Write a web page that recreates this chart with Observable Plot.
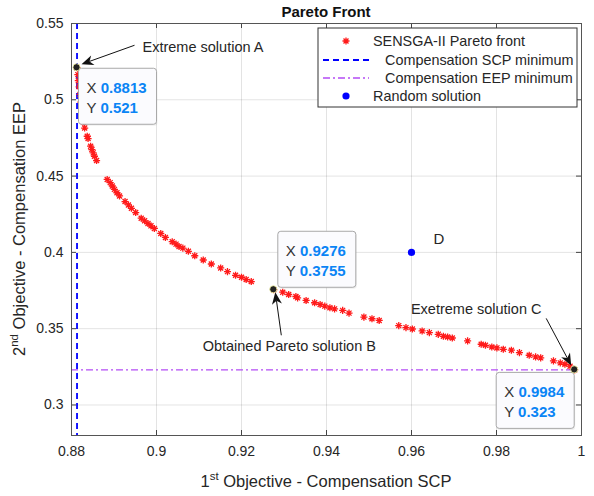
<!DOCTYPE html>
<html><head><meta charset="utf-8">
<script src="https://cdn.jsdelivr.net/npm/d3@7"></script>
<script src="https://cdn.jsdelivr.net/npm/@observablehq/plot@0.6"></script>
<style>body{margin:0;background:#fff}</style>
</head><body><div id="chart"></div>
<script>
const xTicks = [0.88, 0.9, 0.92, 0.94, 0.96, 0.98, 1];
const yTicks = [0.3, 0.35, 0.4, 0.45, 0.5, 0.55];
const paretoX = [0.8813,0.8815,0.8816,0.8818,0.8820,0.8822,0.8824,0.8826,0.8828,
 0.8831,0.8837,0.8839,0.8845,0.8848,0.8851,0.8854,0.8859,0.8884,0.8891,0.8896,0.8901,0.8907,0.8913,
 0.8926,0.8934,0.8941,0.8951,0.8964,0.8972,0.8980,0.8987,0.8995,0.9010,0.9021,0.9037,0.9046,0.9053,
 0.9062,0.9075,0.9090,0.9110,0.9129,0.9151,0.9167,0.9186,0.9200,0.9211,0.9223,
 0.9276,0.9297,0.9311,0.9328,0.9332,0.9352,0.9372,0.9385,0.9396,0.9408,0.9419,0.9438,0.9453,0.9488,
 0.9507,0.9524,0.9570,0.9587,0.9602,0.9625,0.9642,0.9663,0.9675,0.9685,0.9696,0.9732,0.9764,0.9774,
 0.9789,0.9801,0.9816,0.9835,0.9854,0.9877,0.9892,0.9904,0.9934,0.9950,0.9961,0.9973,0.9984];
const paretoY = [0.521,0.5165,0.5125,0.5085,0.5035,0.4985,0.494,0.4895,0.4855,
 0.4815,0.4761,0.4746,0.4696,0.4674,0.4652,0.4630,0.4602,0.4478,0.4457,0.4435,0.4413,0.4391,0.4370,
 0.4333,0.4311,0.4289,0.4261,0.4224,0.4207,0.4189,0.4174,0.4157,0.4124,0.4098,0.4070,0.4054,0.4039,
 0.4028,0.4007,0.3978,0.3950,0.3924,0.3898,0.3874,0.3850,0.3837,0.3822,0.3809,
 0.3755,0.3739,0.3724,0.3711,0.3702,0.3685,0.3670,0.3659,0.3648,0.3637,0.3630,0.3620,0.3602,0.3576,
 0.3565,0.3554,0.3520,0.3507,0.3498,0.3485,0.3474,0.3463,0.3450,0.3446,0.3439,0.3420,0.3398,0.3391,
 0.3380,0.3374,0.3365,0.3359,0.3343,0.3326,0.3315,0.3309,0.3289,0.3276,0.3267,0.3254,0.3230];
const scpMin = 0.8813;
const eepMin = 0.323;
const randomX = [0.96];
const randomY = [0.4];
const randomLabel = ["D"];
const tipX = [0.8813, 0.9276, 0.9984];
const tipY = [0.521, 0.3755, 0.323];
const tipTextX = ["0.8813", "0.9276", "0.9984"];
const tipTextY = ["0.521", "0.3755", "0.323"];
const noteText = ["Extreme solution A", "Obtained Pareto solution B", "Exetreme solution C"];
const legendLabels = ["SENSGA-II Pareto front", "   Compensation SCP minimum", "   Compensation EEP minimum", "Random solution"];

const FONT = "'Liberation Sans', Arial, Helvetica, sans-serif";
const RED = "#ff1a1a", BLUE = "#0000ff", PURPLE = "#b44cf5", TIPBLUE = "#0a84f5";
const pareto = paretoX.map((x, i) => ({x, y: paretoY[i]}));
const tips = tipX.map((x, i) => ({x, y: tipY[i]}));
const randoms = randomX.map((x, i) => ({x, y: randomY[i], label: randomLabel[i]}));

const asterisk = {draw(ctx, size) {
  const r = Math.sqrt(size) / 2, d = r * Math.SQRT1_2;
  ctx.moveTo(-r, 0); ctx.lineTo(r, 0); ctx.moveTo(0, -r); ctx.lineTo(0, r);
  ctx.moveTo(-d, -d); ctx.lineTo(d, d); ctx.moveTo(-d, d); ctx.lineTo(d, -d);
}};
const W = 594, H = 496, mL = 71, mR = 13, mT = 23, mB = 61;
const pw = W - mL - mR, ph = H - mT - mB;
const fmt = d => String(d);

const svg = Plot.plot({
  width: W, height: H, marginLeft: mL, marginRight: mR, marginTop: mT, marginBottom: mB,
  x: {domain: [0.88, 1]}, y: {domain: [0.28, 0.55]},
  style: {fontFamily: FONT, fontSize: "14px", color: "#262626", background: "#fff"},
  marks: [
    Plot.gridX(xTicks, {stroke: "#000", strokeOpacity: 0.11}),
    Plot.gridY(yTicks, {stroke: "#000", strokeOpacity: 0.11}),
    Plot.axisX({ticks: xTicks, tickSize: 0, tickPadding: 11, tickFormat: fmt, label: null, fontSize: 14}),
    Plot.axisY({ticks: yTicks, tickSize: 0, tickPadding: 8, tickFormat: fmt, label: null, fontSize: 14}),
    Plot.ruleX(xTicks, {insetTop: ph - 5, stroke: "#444"}),
    Plot.ruleX(xTicks, {insetBottom: ph - 5, stroke: "#444"}),
    Plot.ruleY(yTicks, {insetRight: pw - 5, stroke: "#444"}),
    Plot.ruleY(yTicks, {insetLeft: pw - 5, stroke: "#444"}),
    Plot.ruleX([scpMin], {stroke: BLUE, strokeWidth: 1.8, strokeDasharray: "6,4"}),
    Plot.ruleY([eepMin], {stroke: PURPLE, strokeWidth: 1.3, strokeDasharray: "7,3,2,3"}),
    Plot.dot(pareto, {x: "x", y: "y", symbol: asterisk, r: 4, stroke: RED, strokeWidth: 1.3, fill: "none"}),
    Plot.dot(randoms, {x: "x", y: "y", r: 3.6, fill: BLUE}),
    Plot.text(randoms, {x: "x", y: "y", text: "label", dx: 22, dy: -13, fontSize: 15, textAnchor: "start"}),
    Plot.frame({stroke: "#555", strokeWidth: 1})
  ]
});
document.getElementById("chart").appendChild(svg);

const X = svg.scale("x"), Y = svg.scale("y");
const g = d3.select(svg).append("g").attr("font-family", FONT).attr("fill", "#262626").attr("text-anchor", "start");

function arrow(x1, y1, x2, y2) {
  const a = Math.atan2(y2 - y1, x2 - x1), L = 12, w = 5, n = 3.5;
  const bx = x2 - L * Math.cos(a), by = y2 - L * Math.sin(a);
  const nx = x2 - (L - n) * Math.cos(a), ny = y2 - (L - n) * Math.sin(a);
  const px = -Math.sin(a) * w, py = Math.cos(a) * w;
  g.append("line").attr("x1", x1).attr("y1", y1).attr("x2", nx).attr("y2", ny).attr("stroke", "#111").attr("stroke-width", 1);
  g.append("path").attr("d", `M${x2},${y2}L${bx + px},${by + py}L${nx},${ny}L${bx - px},${by - py}Z`).attr("fill", "#111");
}
function tipBox(i, left, top) {
  const px = X.apply(tipX[i]), py = Y.apply(tipY[i]);
  const bx = px + left, by = py + top;
  g.append("rect").attr("x", bx + 1).attr("y", by + 1.5).attr("width", 78).attr("height", 56).attr("rx", 3)
    .attr("fill", "#000").attr("fill-opacity", 0.06);
  g.append("rect").attr("x", bx).attr("y", by).attr("width", 78).attr("height", 56).attr("rx", 3)
    .attr("fill", "#fbfbfe").attr("stroke", "#a8a8a8").attr("stroke-width", 1);
  [["X ", tipTextX[i], 25], ["Y ", tipTextY[i], 45]].forEach(([k, v, dy]) => {
    const t = g.append("text").attr("x", bx + 8).attr("y", by + dy).attr("font-size", 15);
    t.append("tspan").attr("fill", "#333").text(k);
    t.append("tspan").attr("fill", TIPBLUE).attr("font-weight", "bold").text(v);
  });
}
// data tips
tipBox(0, 2, 1);
tipBox(1, 4.5, -58);
tipBox(2, -78, 3);
tips.forEach(d => {
  g.append("circle").attr("cx", X.apply(d.x)).attr("cy", Y.apply(d.y)).attr("r", 3.6)
    .attr("fill", "#222").attr("stroke", "#ffffb0").attr("stroke-width", 0.8);
});
// annotations
{
  const ax = X.apply(tipX[0]), ay = Y.apply(tipY[0]);
  g.append("text").attr("x", ax + 66).attr("y", ay - 15).attr("font-size", 14.5).text(noteText[0]);
  arrow(ax + 58, ay - 22, ax + 5, ay - 3);
  const bx = X.apply(tipX[1]), by = Y.apply(tipY[1]);
  g.append("text").attr("x", bx + 16).attr("y", by + 62).attr("text-anchor", "middle").attr("font-size", 14.5).text(noteText[1]);
  arrow(bx + 8, by + 46, bx + 2, by + 3);
  const cx = X.apply(tipX[2]), cy = Y.apply(tipY[2]);
  g.append("text").attr("x", cx - 98).attr("y", cy - 55).attr("text-anchor", "middle").attr("font-size", 14.5).text(noteText[2]);
  arrow(cx - 28, cy - 51, cx - 3, cy - 4);
}
// title and axis labels
g.append("text").attr("x", mL + pw / 2).attr("y", 17).attr("text-anchor", "middle")
  .attr("font-size", 15).attr("font-weight", "bold").attr("fill", "#111").text("Pareto Front");
{
  const t = g.append("text").attr("x", mL + pw / 2).attr("y", 487).attr("text-anchor", "middle").attr("font-size", 16.5);
  t.append("tspan").text("1");
  t.append("tspan").attr("font-size", 11.5).attr("dy", -7).text("st");
  t.append("tspan").attr("dy", 7).text(" Objective - Compensation SCP");
  const u = g.append("text").attr("transform", `translate(25,${mT + ph / 2}) rotate(-90)`).attr("text-anchor", "middle").attr("font-size", 16.5);
  u.append("tspan").text("2");
  u.append("tspan").attr("font-size", 11.5).attr("dy", -7).text("nd");
  u.append("tspan").attr("dy", 7).text(" Objective - Compensation EEP");
}
// legend
{
  const lx = 318, ly = 28, lw = 259, lh = 79;
  const L = g.append("g");
  L.append("rect").attr("x", lx).attr("y", ly).attr("width", lw).attr("height", lh).attr("fill", "#fff").attr("stroke", "#333").attr("stroke-width", 1);
  const rows = [41, 60, 78, 96];
  const tx = [373, 373, 373, 373];
  const s = 3.5, d = s * Math.SQRT1_2, c = 346, r0 = rows[0];
  L.append("path").attr("d", `M${c - s},${r0}h${2 * s}M${c},${r0 - s}v${2 * s}M${c - d},${r0 - d}l${2 * d},${2 * d}M${c - d},${r0 + d}l${2 * d},${-2 * d}`)
    .attr("stroke", RED).attr("stroke-width", 1.3).attr("fill", "none");
  L.append("line").attr("x1", 323).attr("x2", 369).attr("y1", rows[1]).attr("y2", rows[1]).attr("stroke", BLUE).attr("stroke-width", 1.8).attr("stroke-dasharray", "6,4");
  L.append("line").attr("x1", 323).attr("x2", 369).attr("y1", rows[2]).attr("y2", rows[2]).attr("stroke", PURPLE).attr("stroke-width", 1.3).attr("stroke-dasharray", "7,3,2,3");
  L.append("circle").attr("cx", 346).attr("cy", rows[3]).attr("r", 3.6).attr("fill", BLUE);
  legendLabels.forEach((lab, i) => {
    L.append("text").attr("x", tx[i]).attr("y", rows[i] + 5).attr("font-size", 14.4).attr("xml:space", "preserve").style("white-space", "pre").text(lab);
  });
}
</script></body></html>
